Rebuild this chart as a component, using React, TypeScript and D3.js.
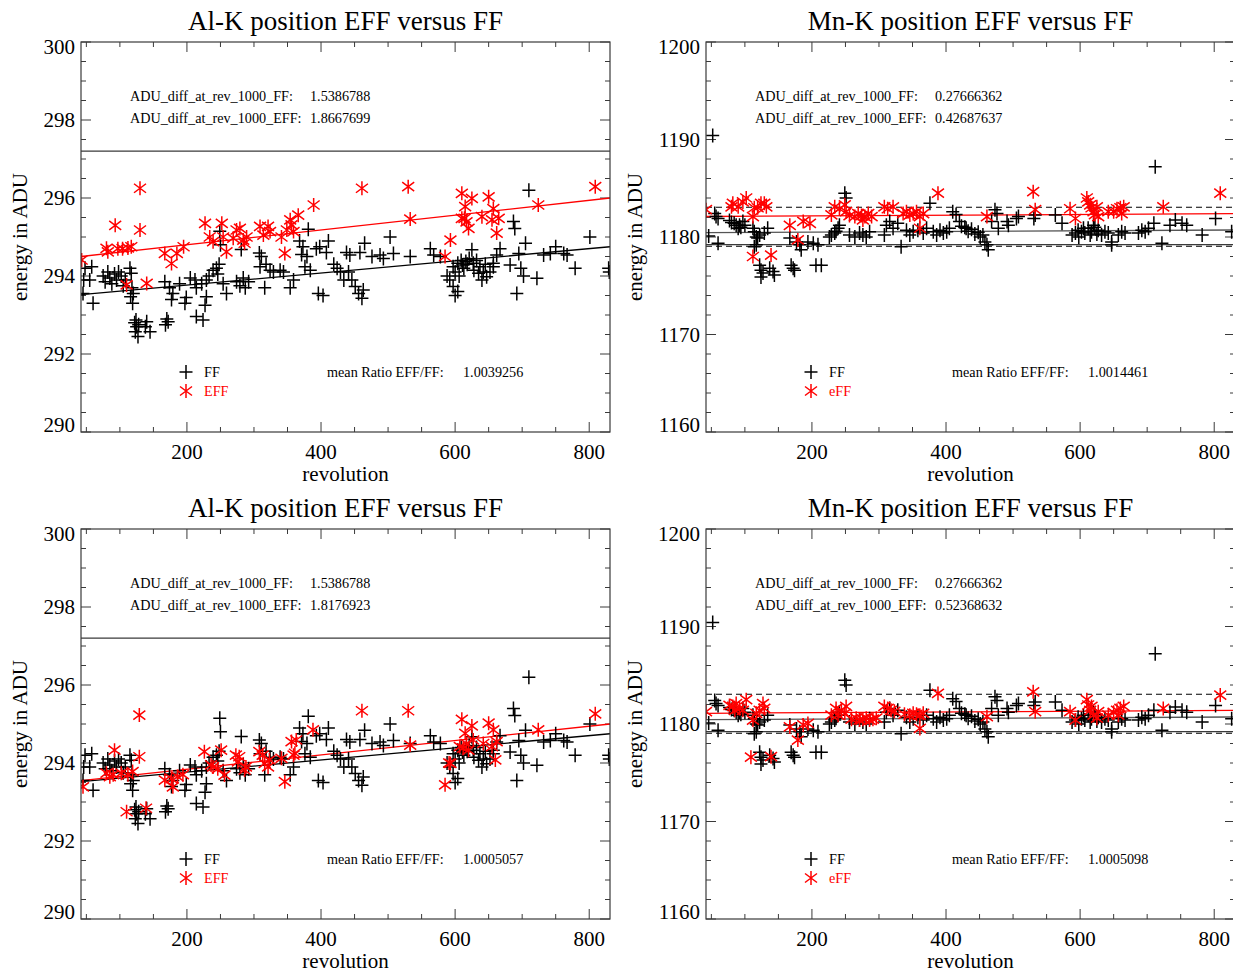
import React, { useEffect } from 'react';
import * as d3 from 'd3';

type Pt = [number, number];

// ---------- axes / ticks ----------
const X_DOMAIN: [number, number] = [42, 831];
const X_MAJOR = [200, 400, 600, 800];
const X_MINOR = d3.range(50, 831, 50);

const AL_Y_DOMAIN: [number, number] = [290, 300];
const AL_Y_MAJOR = [290, 292, 294, 296, 298, 300];
const AL_Y_MINOR = d3.range(290, 300.001, 0.5);

const MN_Y_DOMAIN: [number, number] = [1160, 1200];
const MN_Y_MAJOR = [1160, 1170, 1180, 1190, 1200];
const MN_Y_MINOR = d3.range(1160, 1200.001, 2);

// ---------- data: Al-K ----------
const alFF: Pt[] = [
  [45, 293.55], [46, 293.9], [48, 294.2], [55, 293.9], [58, 294.24], [60, 293.3],
  [75, 294.0], [78, 293.85], [82, 294.1], [85, 293.95], [88, 293.8], [92, 294.05], [95, 293.9], [98, 294.1], [102, 294.0], [105, 293.75], [108, 293.9],
  [115, 294.2], [117, 294.07], [118, 293.7], [120, 293.55], [116, 293.47], [119, 293.3],
  [124, 292.87], [122, 292.8], [125, 292.7], [123, 292.57], [127, 292.45], [128, 292.75],
  [140, 292.83], [145, 292.57], [138, 292.7],
  [170, 292.9], [172, 292.83], [168, 292.75],
  [167, 293.85], [174, 293.7], [179, 293.55], [177, 293.4], [197, 293.3], [199, 293.45], [189, 293.8],
  [214, 292.96], [224, 292.87], [227, 293.25], [229, 293.47],
  [205, 293.95], [212, 293.9], [214, 293.7], [222, 293.8], [229, 293.9], [233, 294.0],
  [239, 294.15], [244, 294.2], [246, 294.05], [248, 294.3], [249, 295.15], [250, 294.8],
  [254, 293.8], [259, 293.55],
  [274, 293.85], [279, 293.75], [281, 294.68], [284, 293.95], [287, 293.7], [292, 293.85],
  [308, 294.59], [311, 294.5], [309, 294.24], [318, 294.3], [324, 294.15], [316, 293.7],
  [329, 294.1], [339, 294.15], [344, 294.1], [354, 293.7], [359, 293.9],
  [368, 294.9], [373, 294.75], [371, 294.55], [379, 294.5], [376, 294.24], [384, 294.15], [381, 295.2],
  [393, 294.7], [398, 294.75], [408, 294.6], [411, 294.9], [396, 293.55], [403, 293.5],
  [419, 294.3], [424, 294.2], [429, 294.1], [438, 294.6], [434, 293.9],
  [443, 294.54], [441, 294.1], [446, 293.9], [451, 293.73], [456, 293.55], [461, 293.43], [463, 293.64],
  [458, 294.6], [465, 294.84], [476, 294.5], [488, 294.54], [493, 294.45],
  [503, 295.0], [508, 294.58], [533, 294.5], [563, 294.7], [568, 294.54], [578, 294.5],
  [588, 294.0], [592, 293.9], [597, 293.73], [600, 293.5], [604, 293.6], [597, 294.24], [604, 294.33], [609, 294.4],
  [611, 294.28], [616, 294.37], [621, 294.45], [627, 294.33], [632, 294.4], [625, 294.67], [637, 294.24], [642, 294.1],
  [647, 293.98], [635, 294.07], [657, 294.33], [662, 294.54], [667, 294.7], [657, 294.24], [652, 294.1], [613, 294.2],
  [618, 294.3], [606, 294.0], [600, 294.1], [645, 294.3], [628, 294.15], [640, 293.9],
  [687, 295.4], [689, 295.22], [682, 294.28], [695, 294.58], [698, 294.2], [702, 294.0], [692, 293.55], [705, 294.84],
  [722, 293.94], [710, 296.2], [732, 294.54], [742, 294.58], [750, 294.75], [762, 294.58], [767, 294.54],
  [779, 294.2], [801, 295.0], [829, 294.2], [830, 294.1],
];

const alEffTop: Pt[] = [
  [43, 294.41], [80, 294.71], [82, 294.62], [93, 295.3], [97, 294.7], [104, 294.7], [112, 294.72], [117, 294.75],
  [130, 296.25], [130, 295.18], [110, 293.77], [140, 293.81],
  [167, 294.58], [177, 294.32], [185, 294.58], [195, 294.75],
  [227, 295.35], [234, 295.0], [239, 294.88], [252, 295.35], [254, 295.0], [259, 294.62], [269, 294.97],
  [274, 295.18], [279, 295.22], [284, 294.92], [286, 294.84], [289, 295.0],
  [309, 295.27], [314, 295.05], [321, 295.27], [324, 295.14],
  [341, 295.0], [346, 294.58], [349, 295.18], [354, 295.44], [356, 295.31], [359, 295.14], [366, 295.56],
  [389, 295.82], [461, 296.25], [530, 296.29], [533, 295.46], [593, 294.92], [585, 294.5],
  [610, 296.12], [615, 295.78], [625, 295.99], [610, 295.48], [617, 295.39], [620, 295.22], [614, 295.48],
  [640, 295.52], [650, 296.03], [657, 295.73], [655, 295.44], [662, 295.1], [665, 295.48],
  [724, 295.82], [809, 296.29],
];

const alEffBottom: Pt[] = [
  [45, 293.39], [92, 294.33], [80, 293.74], [85, 293.65], [90, 293.7], [102, 293.74], [112, 293.7], [119, 293.78],
  [129, 295.23], [129, 294.16], [110, 292.75], [139, 292.84],
  [167, 293.56], [179, 293.39], [177, 293.6], [186, 293.65], [194, 293.7],
  [226, 294.29], [236, 293.95], [251, 294.33], [256, 293.69], [239, 293.9], [246, 293.85],
  [273, 294.2], [278, 294.16], [276, 294.03], [286, 293.82], [288, 293.9],
  [308, 294.29], [313, 294.2], [316, 293.99], [321, 293.9], [323, 294.08],
  [341, 294.12], [346, 293.52], [356, 294.55], [363, 294.59], [359, 294.2], [361, 294.25],
  [388, 294.85], [461, 295.34], [530, 295.34], [533, 294.46], [585, 293.44], [593, 293.99], [591, 294.0],
  [610, 295.12], [625, 294.95], [615, 294.76], [617, 294.5], [612, 294.38], [620, 294.33], [627, 294.59], [607, 294.42],
  [650, 295.02], [657, 294.85], [642, 294.5], [655, 294.42], [662, 294.55], [660, 294.08],
  [724, 294.85], [809, 295.26],
];

// ---------- data: Mn-K ----------
const mnFF: Pt[] = [
  [52, 1190.4], [712, 1187.2],
  [55, 1182.4], [57, 1182.1], [60, 1181.9], [60, 1179.35], [46, 1180.1],
  [77, 1181.7], [84, 1181.4], [87, 1181.2], [92, 1181.2], [94, 1181.0], [97, 1181.6], [90, 1180.9], [100, 1181.2], [80, 1181.5],
  [112, 1180.9], [114, 1180.55], [117, 1180.0], [119, 1179.9], [117, 1179.2], [114, 1179.0],
  [122, 1180.2], [129, 1180.4], [134, 1180.9],
  [122, 1177.1], [124, 1176.6], [127, 1176.3], [124, 1175.9], [137, 1176.8], [142, 1176.45], [144, 1176.1],
  [169, 1177.1], [172, 1176.8], [174, 1176.6],
  [167, 1179.9], [177, 1179.5], [182, 1179.2], [184, 1178.7],
  [194, 1179.5], [202, 1179.35], [209, 1179.2], [206, 1177.1], [214, 1177.1],
  [226, 1180.0], [229, 1180.2], [234, 1180.4], [236, 1180.6], [239, 1180.9], [241, 1181.2],
  [249, 1184.5], [251, 1184.0],
  [256, 1180.2], [264, 1180.0], [271, 1180.4], [276, 1180.2], [281, 1180.0], [286, 1180.55],
  [311, 1181.2], [316, 1181.6], [321, 1180.9], [328, 1181.4], [308, 1180.2], [333, 1179.0],
  [341, 1180.7], [346, 1180.2], [351, 1180.55], [358, 1180.7], [366, 1180.4], [371, 1180.9], [376, 1183.45],
  [381, 1180.55], [386, 1180.2], [391, 1180.7], [396, 1180.4], [401, 1180.55], [405, 1180.9],
  [410, 1182.6], [415, 1182.3], [420, 1181.6], [423, 1181.1], [430, 1180.9],
  [428, 1181.0], [433, 1180.6], [438, 1180.8], [443, 1180.3], [448, 1180.5], [451, 1180.0], [455, 1180.2], [458, 1179.5], [463, 1178.7], [461, 1179.2],
  [473, 1182.8], [476, 1182.4], [468, 1181.6], [478, 1180.9],
  [491, 1181.6], [493, 1181.2], [505, 1181.9], [508, 1182.1], [533, 1182.26], [531, 1181.9], [563, 1182.26], [573, 1181.4],
  [588, 1180.2], [593, 1180.4], [597, 1180.7], [602, 1180.55], [605, 1180.9], [607, 1180.4], [612, 1180.9], [617, 1180.55],
  [622, 1181.0], [627, 1180.7], [632, 1180.2], [637, 1180.55], [642, 1180.4], [598, 1180.0], [615, 1180.2], [625, 1180.3], [620, 1181.2],
  [647, 1179.5], [647, 1179.2], [657, 1180.2], [662, 1180.55], [667, 1180.4],
  [687, 1180.4], [692, 1180.7], [697, 1180.55], [702, 1180.9], [710, 1181.4], [722, 1179.35],
  [734, 1181.2], [742, 1181.75], [752, 1181.4], [759, 1181.2], [782, 1180.2], [802, 1181.9], [826, 1180.55],
];

const mnEffTop: Pt[] = [
  [42, 1182.8], [80, 1183.1], [82, 1183.45], [90, 1183.1], [97, 1183.6], [102, 1184.0],
  [112, 1182.1], [114, 1183.0], [119, 1183.0], [124, 1183.45], [129, 1183.45], [132, 1183.1],
  [112, 1178.0], [139, 1178.15],
  [167, 1181.2], [187, 1181.6], [197, 1181.4], [179, 1179.7],
  [229, 1182.26], [234, 1183.1], [241, 1182.9], [249, 1183.3], [251, 1182.6],
  [256, 1182.2], [264, 1182.1], [269, 1182.4], [274, 1182.2], [279, 1182.1], [284, 1182.4], [289, 1182.1], [276, 1181.75],
  [308, 1183.1], [313, 1182.9], [321, 1183.1],
  [336, 1182.4], [341, 1182.6], [346, 1182.26], [351, 1182.4], [356, 1182.6], [361, 1182.1], [366, 1182.4],
  [361, 1180.9], [388, 1184.5],
  [461, 1182.1], [530, 1184.65], [533, 1182.8], [585, 1182.9], [593, 1181.9],
  [610, 1184.0], [612, 1183.6], [615, 1183.3], [617, 1183.0], [620, 1182.6], [622, 1182.3], [625, 1183.1], [627, 1182.1],
  [642, 1182.6], [650, 1182.6], [655, 1182.9], [660, 1183.0], [665, 1183.1], [662, 1182.4],
  [724, 1183.1], [809, 1184.5],
];

const mnEffBottom: Pt[] = [
  [42, 1181.26], [77, 1181.9], [82, 1181.8], [87, 1182.1], [92, 1181.6], [97, 1181.4], [102, 1182.5], [85, 1181.4],
  [112, 1180.4], [117, 1181.1], [122, 1181.4], [127, 1182.1], [129, 1181.6],
  [109, 1176.6], [139, 1176.65],
  [167, 1179.7], [179, 1178.35], [187, 1179.9], [194, 1180.06],
  [229, 1180.9], [236, 1181.6], [244, 1181.4], [251, 1181.8], [239, 1180.9], [249, 1181.1],
  [259, 1180.5], [266, 1180.6], [271, 1180.4], [276, 1180.5], [281, 1180.6], [286, 1180.4], [291, 1180.5], [296, 1180.6],
  [308, 1181.8], [313, 1181.6], [318, 1181.4], [323, 1181.3],
  [338, 1181.0], [346, 1180.9], [351, 1181.1], [356, 1181.0], [361, 1180.9], [366, 1181.1],
  [361, 1179.55], [388, 1183.14],
  [461, 1180.75], [530, 1183.3], [533, 1181.26], [585, 1181.26], [593, 1180.4],
  [610, 1182.5], [612, 1181.95], [615, 1181.4], [620, 1180.9], [625, 1180.6], [617, 1181.8], [627, 1181.26],
  [642, 1180.9], [650, 1181.2], [655, 1181.4], [660, 1181.6], [665, 1181.8], [657, 1180.9],
  [724, 1181.6], [809, 1182.97],
];

// ---------- fit / reference lines ----------
const alFitFF: Pt[] = [[42, 293.52], [831, 294.75]];
const alFitEffTop: Pt[] = [[42, 294.5], [831, 296.0]];
const alFitEffBottom: Pt[] = [[42, 293.55], [831, 295.0]];
const alHLine = [297.2];

const mnFitFF: Pt[] = [[42, 1180.45], [831, 1180.72]];
const mnFitEffTop: Pt[] = [[42, 1182.1], [831, 1182.4]];
const mnFitEffBottom: Pt[] = [[42, 1181.1], [831, 1181.4]];
const mnSolidLevels = [1179.22];
const mnDashedLevels = [1183.05, 1179.05];

// ---------- texts ----------
const TITLES = ['Al-K position EFF versus FF', 'Mn-K position EFF versus FF'];
const DIFF_LABELS = ['ADU_diff_at_rev_1000_FF:', 'ADU_diff_at_rev_1000_EFF:'];
const AL_DIFF_TOP = ['1.5386788', '1.8667699'];
const AL_DIFF_BOTTOM = ['1.5386788', '1.8176923'];
const MN_DIFF_TOP = ['0.27666362', '0.42687637'];
const MN_DIFF_BOTTOM = ['0.27666362', '0.52368632'];
const RATIO_LABEL = 'mean Ratio EFF/FF:';
const AL_RATIO = ['1.0039256', '1.0005057'];
const MN_RATIO = ['1.0014461', '1.0005098'];

const FONT = '"Liberation Serif", "Times New Roman", Times, serif';
const AXIS_COLOR = '#3a3a3a';
const RED = '#ff0000';

const PLUS = 'M-6.5,0H6.5M0,-7V7';
const STAR = 'M0,-7V7M-6,-4.5L6,4.5M-6,4.5L6,-4.5';

interface PanelProps {
  id: string;
  ox: number;
  oy: number;
  title: string;
  yDomain: [number, number];
  yMajor: number[];
  yMinor: number[];
  ff: Pt[];
  eff: Pt[];
  fitFF: Pt[];
  fitEff: Pt[];
  hSolid: number[];
  hDashed: number[];
  diffValues: string[];
  ratio: string;
  effLabel: string;
  yLabelGap: number;
  fitFFColor: string;
}

function Panel(p: PanelProps) {
  const left = p.ox + 81;
  const right = p.ox + 610;
  const top = p.oy + 42;
  const bottom = p.oy + 432;
  const x = d3.scaleLinear().domain(X_DOMAIN).range([left, right]);
  const y = d3.scaleLinear().domain(p.yDomain).range([bottom, top]);
  const line = d3.line<Pt>().x(d => x(d[0])).y(d => y(d[1]));
  const majLen = 10;
  const minLen = 5;
  const clipId = `clip-${p.id}`;

  return (
    <g fontFamily={FONT}>
      <defs>
        <clipPath id={clipId}>
          <rect x={left} y={top} width={right - left} height={bottom - top} />
        </clipPath>
      </defs>
      <text x={(left + right) / 2} y={p.oy + 30} textAnchor="middle" fontSize={27} fill="#000">{p.title}</text>

      <g stroke={AXIS_COLOR} strokeWidth={1}>
        {X_MINOR.filter(v => !X_MAJOR.includes(v)).map(v => (
          <g key={`xm${v}`}>
            <line x1={x(v)} x2={x(v)} y1={bottom} y2={bottom - minLen} />
            <line x1={x(v)} x2={x(v)} y1={top} y2={top + minLen} />
          </g>
        ))}
        {X_MAJOR.map(v => (
          <g key={`xM${v}`}>
            <line x1={x(v)} x2={x(v)} y1={bottom} y2={bottom - majLen} />
            <line x1={x(v)} x2={x(v)} y1={top} y2={top + majLen} />
          </g>
        ))}
        {p.yMinor.filter(v => !p.yMajor.some(m => Math.abs(m - v) < 1e-6)).map(v => (
          <g key={`ym${v}`}>
            <line x1={left} x2={left + minLen} y1={y(v)} y2={y(v)} />
            <line x1={right} x2={right - minLen} y1={y(v)} y2={y(v)} />
          </g>
        ))}
        {p.yMajor.map(v => (
          <g key={`yM${v}`}>
            <line x1={left} x2={left + majLen} y1={y(v)} y2={y(v)} />
            <line x1={right} x2={right - majLen} y1={y(v)} y2={y(v)} />
          </g>
        ))}
      </g>

      {X_MAJOR.map(v => (
        <text key={`xl${v}`} x={x(v)} y={p.oy + 459} textAnchor="middle" fontSize={21} fill="#000">{v}</text>
      ))}
      {p.yMajor.map((v, i) => {
        let yy = y(v) + 7;
        if (i === p.yMajor.length - 1) yy += 5;
        if (i === 0) yy -= 7;
        return (
          <text key={`yl${v}`} x={left - 6} y={yy} textAnchor="end" fontSize={21} fill="#000">{String(v)}</text>
        );
      })}
      <text x={(left + right) / 2} y={p.oy + 481} textAnchor="middle" fontSize={21} fill="#000">revolution</text>
      <text transform={`translate(${left - p.yLabelGap},${(top + bottom) / 2}) rotate(-90)`} textAnchor="middle" fontSize={21} fill="#000">energy in ADU</text>

      <g clipPath={`url(#${clipId})`}>
        {p.hSolid.map((v, i) => (
          <line key={`hs${i}`} x1={left} x2={right} y1={y(v)} y2={y(v)} stroke={AXIS_COLOR} strokeWidth={1.2} />
        ))}
        {p.hDashed.map((v, i) => (
          <line key={`hd${i}`} x1={left} x2={right} y1={y(v)} y2={y(v)} stroke="#000" strokeWidth={1.2} strokeDasharray="6,4" />
        ))}
        <path d={line(p.fitFF) || ''} stroke={p.fitFFColor} strokeWidth={1.3} fill="none" />
        <path d={line(p.fitEff) || ''} stroke={RED} strokeWidth={1.3} fill="none" />

        {p.ff.map((d, i) => (
          <path key={`ff${i}`} d={PLUS} transform={`translate(${x(d[0])},${y(d[1])})`} stroke="#000" strokeWidth={1.5} fill="none" />
        ))}
        {p.eff.map((d, i) => (
          <path key={`ef${i}`} d={STAR} transform={`translate(${x(d[0])},${y(d[1])})`} stroke={RED} strokeWidth={1.5} fill="none" />
        ))}
      </g>

      <rect x={left} y={top} width={right - left} height={bottom - top} fill="none" stroke={AXIS_COLOR} strokeWidth={1.2} />

      <g fontSize={14.2} fill="#000">
        <text x={left + 49} y={p.oy + 101}>{DIFF_LABELS[0]}</text>
        <text x={left + 229} y={p.oy + 101}>{p.diffValues[0]}</text>
        <text x={left + 49} y={p.oy + 123}>{DIFF_LABELS[1]}</text>
        <text x={left + 229} y={p.oy + 123}>{p.diffValues[1]}</text>
        <text x={left + 123} y={p.oy + 376.5}>FF</text>
        <text x={left + 123} y={p.oy + 395.5} fill={RED}>{p.effLabel}</text>
        <text x={left + 246} y={p.oy + 376.5}>{RATIO_LABEL}</text>
        <text x={left + 382} y={p.oy + 376.5}>{p.ratio}</text>
      </g>
      <path d={PLUS} transform={`translate(${left + 105},${p.oy + 372})`} stroke="#000" strokeWidth={1.5} fill="none" />
      <path d={STAR} transform={`translate(${left + 105},${p.oy + 391})`} stroke={RED} strokeWidth={1.5} fill="none" />
    </g>
  );
}

export default function App() {
  useEffect(() => {
    document.body.style.margin = '0';
    document.body.style.overflow = 'hidden';
  }, []);
  const W = 1233;
  const H = 973;
  const rowOff = 487;
  const colOff = 625;
  return (
    <svg width={W} height={H} style={{ position: 'absolute', left: 0, top: 0, background: '#fff' }}>
      <rect x={0} y={0} width={W} height={H} fill="#fff" />
      <Panel id="a" ox={0} oy={0} title={TITLES[0]} yDomain={AL_Y_DOMAIN} yMajor={AL_Y_MAJOR} yMinor={AL_Y_MINOR}
        ff={alFF} eff={alEffTop} fitFF={alFitFF} fitEff={alFitEffTop} hSolid={alHLine} hDashed={[]}
        diffValues={AL_DIFF_TOP} ratio={AL_RATIO[0]} effLabel="EFF" yLabelGap={54} fitFFColor="#000" />
      <Panel id="b" ox={colOff} oy={0} title={TITLES[1]} yDomain={MN_Y_DOMAIN} yMajor={MN_Y_MAJOR} yMinor={MN_Y_MINOR}
        ff={mnFF} eff={mnEffTop} fitFF={mnFitFF} fitEff={mnFitEffTop} hSolid={mnSolidLevels} hDashed={mnDashedLevels}
        diffValues={MN_DIFF_TOP} ratio={MN_RATIO[0]} effLabel="eFF" yLabelGap={64} fitFFColor="#555" />
      <Panel id="c" ox={0} oy={rowOff} title={TITLES[0]} yDomain={AL_Y_DOMAIN} yMajor={AL_Y_MAJOR} yMinor={AL_Y_MINOR}
        ff={alFF} eff={alEffBottom} fitFF={alFitFF} fitEff={alFitEffBottom} hSolid={alHLine} hDashed={[]}
        diffValues={AL_DIFF_BOTTOM} ratio={AL_RATIO[1]} effLabel="EFF" yLabelGap={54} fitFFColor="#000" />
      <Panel id="d" ox={colOff} oy={rowOff} title={TITLES[1]} yDomain={MN_Y_DOMAIN} yMajor={MN_Y_MAJOR} yMinor={MN_Y_MINOR}
        ff={mnFF} eff={mnEffBottom} fitFF={mnFitFF} fitEff={mnFitEffBottom} hSolid={mnSolidLevels} hDashed={mnDashedLevels}
        diffValues={MN_DIFF_BOTTOM} ratio={MN_RATIO[1]} effLabel="eFF" yLabelGap={64} fitFFColor="#555" />
    </svg>
  );
}
